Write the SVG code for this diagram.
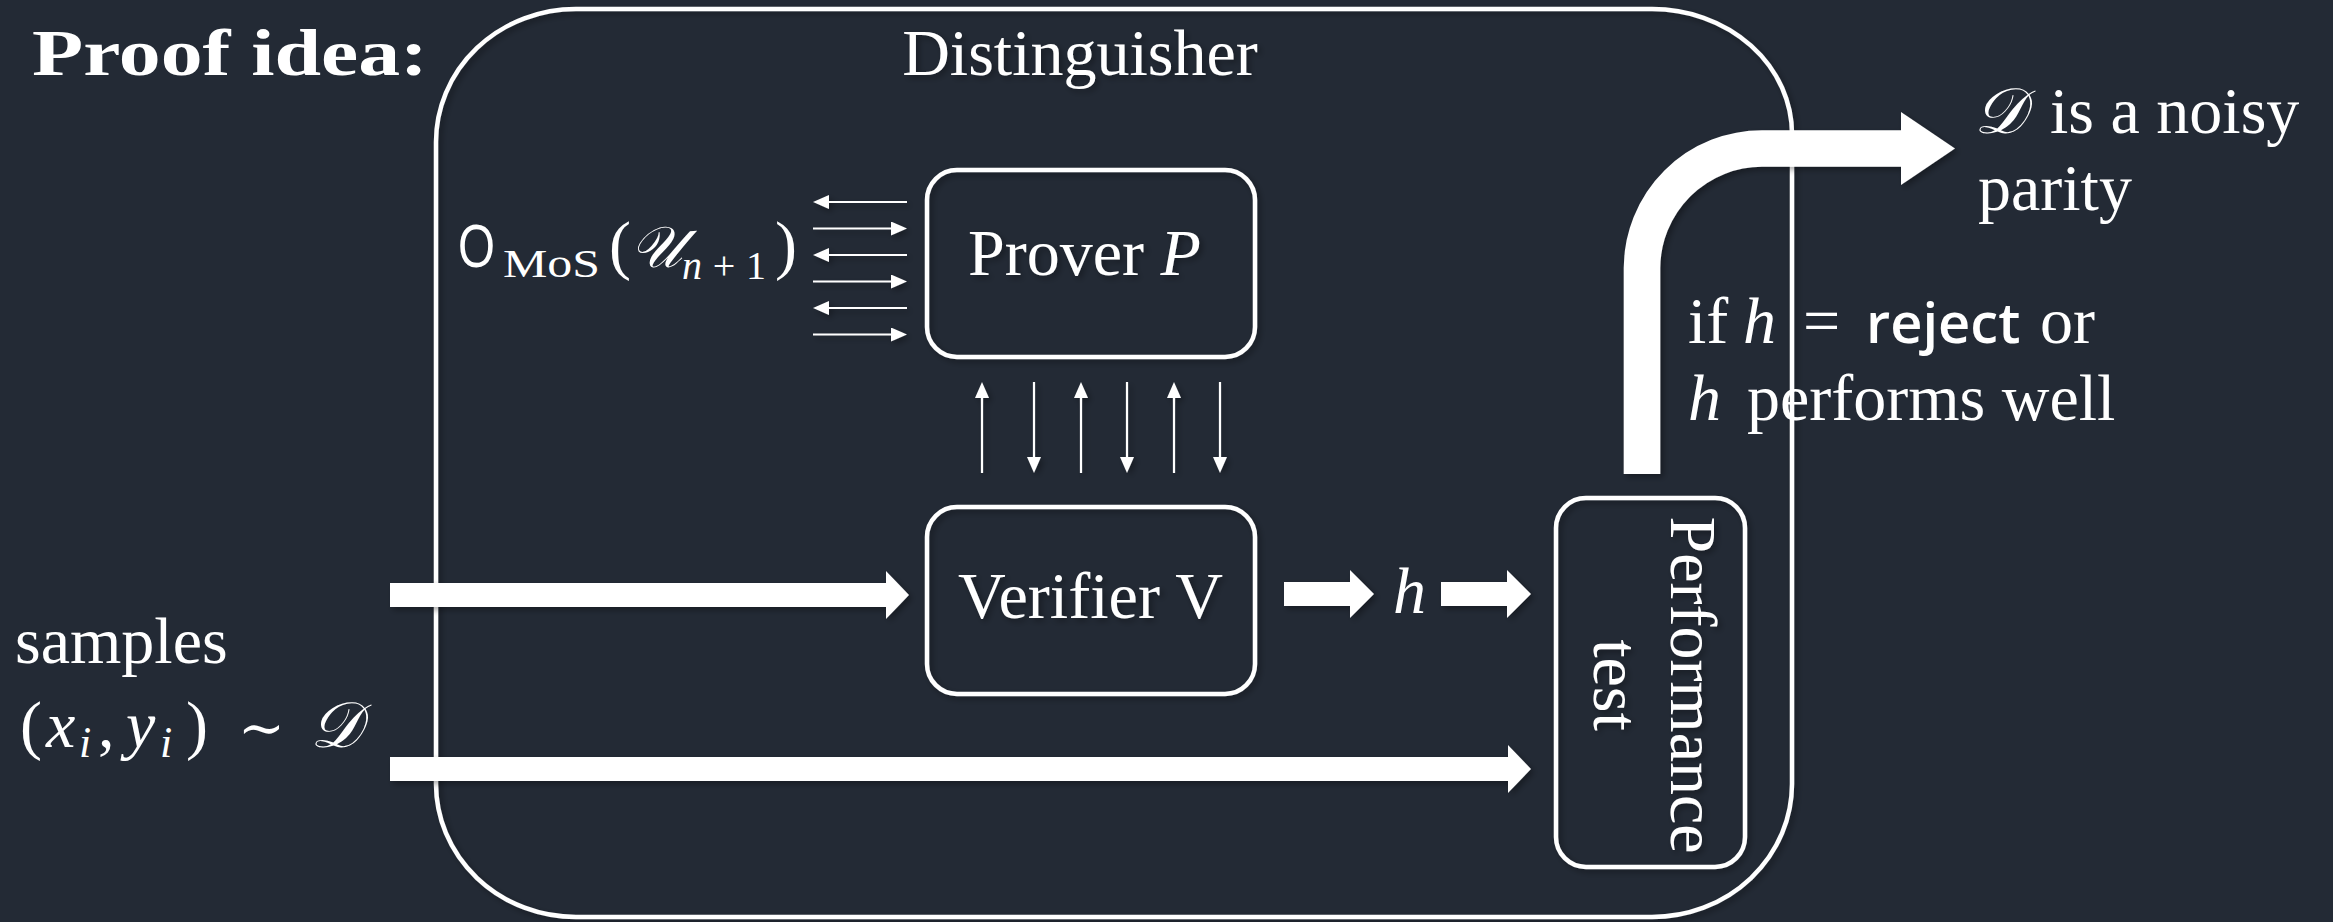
<svg xmlns="http://www.w3.org/2000/svg" width="2333" height="922" viewBox="0 0 2333 922">
<style>
.t{font-family:"Liberation Serif","DejaVu Serif",serif;fill:#fff;font-size:66px}
.it{font-style:italic}
.box{fill:none;stroke:#fff;stroke-width:4.5}
.thin{stroke:#fff;stroke-width:2.2;fill:none;marker-end:url(#ah)}
.thick{fill:#fff}
</style>
<defs>
<filter id="sh" x="-10%" y="-10%" width="130%" height="130%">
<feDropShadow dx="3" dy="3" stdDeviation="3" flood-color="#000" flood-opacity="0.35"/>
</filter>
<marker id="ah" markerUnits="userSpaceOnUse" markerWidth="16" markerHeight="14" refX="6" refY="7" orient="auto">
<path d="M0,0 L16,7 L0,14 Z" fill="#fff"/>
</marker>
</defs>
<rect x="0" y="0" width="2333" height="922" fill="#232a35"/>

<text class="t" x="32" y="75" font-weight="bold" textLength="396" lengthAdjust="spacingAndGlyphs">Proof idea:</text>

<g id="distinguisher" filter="url(#sh)">
<path class="box" d="M576,9 H1652 A140 125 0 0 1 1792,134 V784 A140 133 0 0 1 1652,917 H576 A140 133 0 0 1 436,784 V142 A140 133 0 0 1 576,9 Z"/>
<text class="t" x="1080" y="75" text-anchor="middle">Distinguisher</text>
</g>

<g id="prover" filter="url(#sh)">
<rect class="box" x="927" y="170" width="328" height="187" rx="30"/>
<text class="t" x="968" y="275">Prover <tspan class="it">P</tspan></text>
</g>

<g id="verifier" filter="url(#sh)">
<rect class="box" x="927" y="507" width="328" height="187" rx="30"/>
<text class="t" x="958" y="618" textLength="265" lengthAdjust="spacingAndGlyphs">Verifier V</text>
</g>

<g id="performance" filter="url(#sh)">
<rect class="box" x="1556" y="498" width="189" height="369" rx="30"/>
<g transform="translate(1671,685) rotate(90)">
<text class="t" x="0" y="0" text-anchor="middle">Performance</text>
<text class="t" x="0" y="77" text-anchor="middle">test</text>
</g>
</g>

<g id="oracle">
<text class="t" y="267"><tspan x="458" font-family="Liberation Sans,sans-serif" font-size="62" textLength="37" lengthAdjust="spacingAndGlyphs">O</tspan><tspan x="503" y="277" font-size="40" textLength="97" lengthAdjust="spacingAndGlyphs">MoS</tspan><tspan x="609" y="267">(</tspan><tspan x="630" class="it" font-family="DejaVu Serif,serif" font-size="58">𝒰</tspan><tspan x="682" y="279" font-size="40" textLength="84" lengthAdjust="spacing"><tspan class="it">n</tspan>+1</tspan><tspan x="775" y="267">)</tspan></text>
</g>

<g id="samples">
<text class="t" x="15" y="663">samples</text>
<text class="t" y="747"><tspan x="20">(</tspan><tspan x="46" class="it">x</tspan><tspan x="79" y="757" font-size="44" class="it">i</tspan><tspan x="98" y="747">,</tspan><tspan x="126" class="it">y</tspan><tspan x="160" y="757" font-size="44" class="it">i</tspan><tspan x="186" y="747">)</tspan><tspan x="238" font-family="DejaVu Serif,serif" font-size="56">∼</tspan><tspan x="310" class="it" font-family="DejaVu Serif,serif" font-size="64">𝒟</tspan></text>
</g>

<g id="result">
<text class="t" y="133"><tspan x="1974" class="it" font-family="DejaVu Serif,serif" font-size="64">𝒟</tspan><tspan x="2050">is a noisy</tspan></text>
<text class="t" x="1978" y="210">parity</text>
</g>

<g id="condition">
<text class="t" y="343"><tspan x="1688">if</tspan><tspan x="1743" class="it">h</tspan><tspan x="1803">=</tspan><tspan x="1866" font-family="Open Sans,sans-serif" font-weight="600" font-size="56">reject</tspan><tspan x="2040">or</tspan></text>
<text class="t" y="420"><tspan x="1688" class="it">h</tspan><tspan x="1747">performs well</tspan></text>
</g>

<g id="hlabel">
<text class="t it" x="1393" y="613" font-size="64">h</text>
</g>

<g id="connectors" filter="url(#sh)">
<path class="thick" d="M390,583 H886 V571 L909,595 L886,619 V607 H390 Z"/>
<path class="thick" d="M390,757 H1508 V745 L1531,769 L1508,793 V781 H390 Z"/>
<path class="thick" d="M1284,582 H1350 V570 L1374,594 L1350,618 V606 H1284 Z"/>
<path class="thick" d="M1441,582 H1507 V570 L1531,594 L1507,618 V606 H1441 Z"/>
<path d="M1642,474 V268 A120 120 0 0 1 1762,148.5 H1903" fill="none" stroke="#fff" stroke-width="36.6"/>
<path class="thick" d="M1901,112 L1955,148.5 L1901,185 Z"/>
<line class="thin" x1="907" y1="202" x2="823" y2="202"/>
<line class="thin" x1="813" y1="228.5" x2="897" y2="228.5"/>
<line class="thin" x1="907" y1="255" x2="823" y2="255"/>
<line class="thin" x1="813" y1="281.5" x2="897" y2="281.5"/>
<line class="thin" x1="907" y1="308" x2="823" y2="308"/>
<line class="thin" x1="813" y1="334.5" x2="897" y2="334.5"/>
<line class="thin" x1="982" y1="473" x2="982" y2="392"/>
<line class="thin" x1="1034" y1="382" x2="1034" y2="463"/>
<line class="thin" x1="1081" y1="473" x2="1081" y2="392"/>
<line class="thin" x1="1127" y1="382" x2="1127" y2="463"/>
<line class="thin" x1="1174" y1="473" x2="1174" y2="392"/>
<line class="thin" x1="1220" y1="382" x2="1220" y2="463"/>
</g>
</svg>
